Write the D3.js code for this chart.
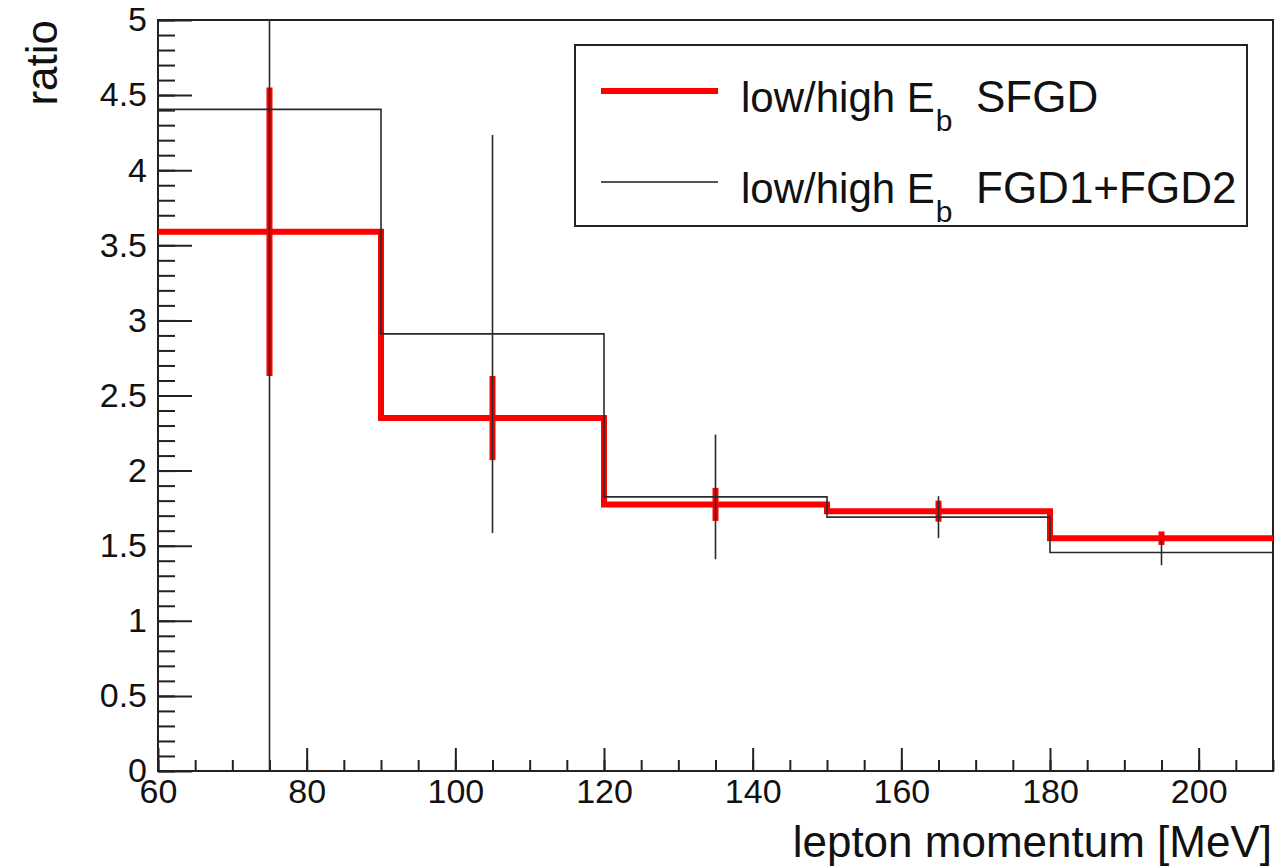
<!DOCTYPE html>
<html>
<head>
<meta charset="utf-8">
<script src="https://cdn.jsdelivr.net/npm/d3@7"></script>
<style>
body { margin: 0; background: #fff; }
svg { display: block; font-family: "Liberation Sans", Arial, sans-serif; }
.axis path { display: none; }
.axis line { stroke: #222; stroke-width: 2; }
.axis text { font-size: 34px; fill: #111; font-family: "Liberation Sans", Arial, sans-serif; }
</style>
</head>
<body>
<svg class="ratio-chart" width="1286" height="866"></svg>
<script>
"use strict";

// bin edges of lepton momentum [MeV]
var binEdges = [60, 90, 120, 150, 180, 210];

// low/high E_b ratio, SFGD
var sfgdRatio = [3.59, 2.35, 1.775, 1.73, 1.55];
var sfgdErr = [0.96, 0.28, 0.11, 0.07, 0.045];

// low/high E_b ratio, FGD1+FGD2
var fgdRatio = [4.405, 2.91, 1.825, 1.69, 1.455];
var fgdErr = [4.5, 1.325, 0.415, 0.14, 0.085];

var xMajorTicks = [60, 80, 100, 120, 140, 160, 180, 200];
var yMajorTicks = [0, 0.5, 1, 1.5, 2, 2.5, 3, 3.5, 4, 4.5, 5];

var legendLabels = ["SFGD", "FGD1+FGD2"];

function toBins(values, errors) {
    return values.map(function (v, i) {
        return {
            lo: binEdges[i],
            hi: binEdges[i + 1],
            center: (binEdges[i] + binEdges[i + 1]) / 2,
            value: v,
            err: errors[i]
        };
    });
}

function drawChart() {
    var svg = d3.select("svg.ratio-chart");
    var frame = { left: 158, right: 1273, top: 20, bottom: 771 };

    var x = d3.scaleLinear().domain([60, 210]).range([frame.left, frame.right]);
    var y = d3.scaleLinear().domain([0, 5]).range([frame.bottom, frame.top]);

    svg.append("defs").append("clipPath").attr("id", "plot-clip")
        .append("rect")
        .attr("x", frame.left).attr("y", frame.top)
        .attr("width", frame.right - frame.left).attr("height", frame.bottom - frame.top);

    // minor ticks
    svg.append("g").attr("class", "axis").attr("transform", "translate(0, " + frame.bottom + ")")
        .call(d3.axisBottom(x).tickValues(d3.range(60, 211, 5)).tickSize(-11).tickFormat(""));
    svg.append("g").attr("class", "axis").attr("transform", "translate(" + frame.left + ", 0)")
        .call(d3.axisLeft(y).tickValues(d3.range(0, 51, 1).map(function (d) { return d / 10; })).tickSize(-17).tickFormat(""));

    // major ticks + labels
    svg.append("g").attr("class", "axis").attr("transform", "translate(0, " + frame.bottom + ")")
        .call(d3.axisBottom(x).tickValues(xMajorTicks).tickSize(-23).tickPadding(8).tickFormat(d3.format("")));
    svg.append("g").attr("class", "axis").attr("transform", "translate(" + frame.left + ", 0)")
        .call(d3.axisLeft(y).tickValues(yMajorTicks).tickSize(-34).tickPadding(11).tickFormat(d3.format("")));

    // frame
    svg.append("rect")
        .attr("x", frame.left).attr("y", frame.top)
        .attr("width", frame.right - frame.left).attr("height", frame.bottom - frame.top)
        .attr("fill", "none").attr("stroke", "#222").attr("stroke-width", 2);

    var plot = svg.append("g").attr("clip-path", "url(#plot-clip)");

    var step = d3.line().curve(d3.curveStepAfter).x(function (d) {
        return x(d[0]);
    }).y(function (d) {
        return y(d[1]);
    });

    function stepPoints(bins) {
        var pts = bins.map(function (b) { return [b.lo, b.value]; });
        pts.push([bins[bins.length - 1].hi, bins[bins.length - 1].value]);
        return pts;
    }

    var series = [
        { bins: toBins(sfgdRatio, sfgdErr), color: "#ff0000", width: 6 },
        { bins: toBins(fgdRatio, fgdErr), color: "#2a2a2a", width: 1.6 }
    ];

    series.forEach(function (s) {
        plot.append("path").datum(stepPoints(s.bins))
            .attr("fill", "none").attr("stroke", s.color).attr("stroke-width", s.width)
            .attr("stroke-linejoin", "miter").attr("d", step);

        plot.selectAll(null).data(s.bins).enter().append("line")
            .attr("x1", function (d) { return x(d.center); })
            .attr("x2", function (d) { return x(d.center); })
            .attr("y1", function (d) { return y(d.value - d.err); })
            .attr("y2", function (d) { return y(d.value + d.err); })
            .attr("stroke", s.color).attr("stroke-width", s.width);
    });

    // axis titles
    svg.append("text").attr("transform", "translate(57, " + frame.top + ") rotate(-90)")
        .attr("text-anchor", "end").attr("font-size", 44).attr("fill", "#111").text("ratio");
    svg.append("text").attr("x", 1272).attr("y", 857)
        .attr("text-anchor", "end").attr("font-size", 44).attr("fill", "#111").text("lepton momentum [MeV]");

    // legend
    var legend = svg.append("g");
    legend.append("rect").attr("x", 575).attr("y", 45).attr("width", 672).attr("height", 181)
        .attr("fill", "#fff").attr("stroke", "#222").attr("stroke-width", 2);

    var rows = [
        { label: legendLabels[0], color: "#ff0000", width: 6, ly: 91, ty: 112 },
        { label: legendLabels[1], color: "#555", width: 2, ly: 182, ty: 203 }
    ];
    rows.forEach(function (r) {
        legend.append("line").attr("x1", 601).attr("x2", 718).attr("y1", r.ly).attr("y2", r.ly)
            .attr("stroke", r.color).attr("stroke-width", r.width);
        var t = legend.append("text").attr("x", 741).attr("y", r.ty).attr("font-size", 42).attr("fill", "#111");
        t.append("tspan").text("low/high E");
        t.append("tspan").attr("dx", 1).attr("font-size", 30).attr("dy", 19).text("b");
        t.append("tspan").attr("x", 976).attr("dy", -19).attr("font-size", 44).text(r.label);
    });
}

drawChart();
</script>
</body>
</html>
